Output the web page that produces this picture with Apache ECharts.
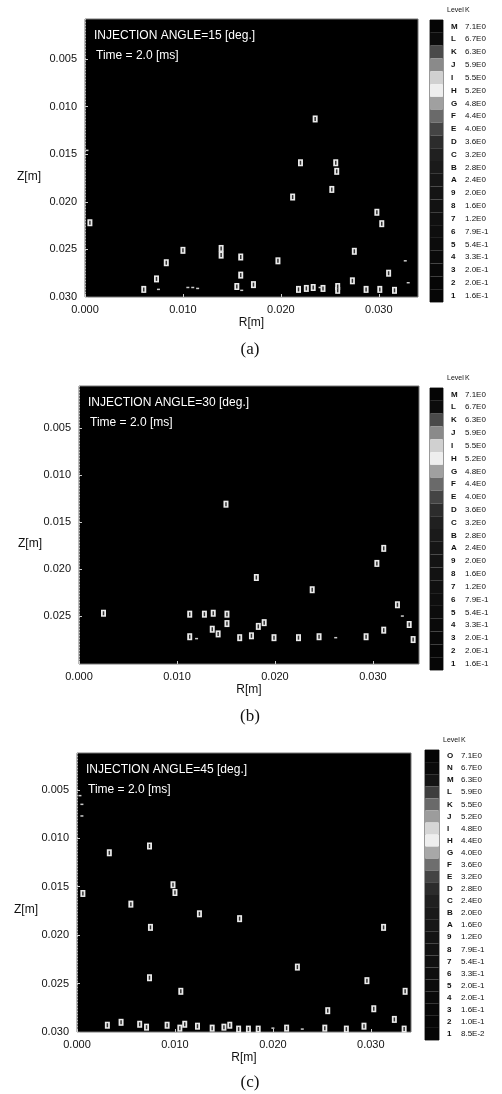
<!DOCTYPE html>
<html>
<head>
<meta charset="UTF-8">
<script src="https://cdn.jsdelivr.net/npm/echarts@6/dist/echarts.min.js"></script>
<title>K contours</title>
<style>body{margin:0;background:#fff;}</style>
</head>
<body>
<div id="main" style="width:502px;height:1094px;"></div>
<script type="text/javascript">
// level tables (top -> bottom)
var levels13 = ['M','L','K','J','I','H','G','F','E','D','C','B','A','9','8','7','6','5','4','3','2','1'];
var values13 = ['7.1E0','6.7E0','6.3E0','5.9E0','5.5E0','5.2E0','4.8E0','4.4E0','4.0E0','3.6E0','3.2E0',
                '2.8E0','2.4E0','2.0E0','1.6E0','1.2E0','7.9E-1','5.4E-1','3.3E-1','2.0E-1','2.0E-1','1.6E-1'];
var grays13 = ['#050505','#0c0c0c','#4a4a4a','#8a8a8a','#d0d0d0','#eeeeee','#a0a0a0','#6a6a6a','#444444','#2c2c2c','#202020',
               '#1a1a1a','#161616','#141414','#121212','#101010','#0e0e0e','#0c0c0c','#0a0a0a','#080808','#060606','#060606'];

var levels15 = ['O','N','M','L','K','J','I','H','G','F','E','D','C','B','A','9','8','7','6','5','4','3','2','1'];
var values15 = ['7.1E0','6.7E0','6.3E0','5.9E0','5.5E0','5.2E0','4.8E0','4.4E0','4.0E0','3.6E0','3.2E0','2.8E0',
                '2.4E0','2.0E0','1.6E0','1.2E0','7.9E-1','5.4E-1','3.3E-1','2.0E-1','2.0E-1','1.6E-1','1.0E-1','8.5E-2'];
var grays15 = ['#050505','#0a0a0a','#141414','#3e3e3e','#6a6a6a','#9c9c9c','#d6d6d6','#eeeeee','#a8a8a8','#6e6e6e','#444444','#2c2c2c',
               '#202020','#1a1a1a','#161616','#141414','#121212','#101010','#0e0e0e','#0c0c0c','#0a0a0a','#080808','#060606','#060606'];

var zTicks = [0.005, 0.010, 0.015, 0.020, 0.025, 0.030];
var zTicksB = [0.005, 0.010, 0.015, 0.020, 0.025];
var rTicks = [0.000, 0.010, 0.020, 0.030];

// contour label positions [R, Z]
var labelsA = [
  [0.0235,0.0113],[0.0220,0.0159],[0.0256,0.0159],[0.0257,0.0168],[0.0252,0.0187],[0.0212,0.0195],
  [0.0298,0.0211],[0.0303,0.0223],[0.0100,0.0251],[0.0139,0.0249],[0.0139,0.0256],[0.0159,0.0258],
  [0.0197,0.0262],[0.0275,0.0252],[0.0083,0.0264],[0.0159,0.0277],[0.0310,0.0275],[0.0273,0.0283],
  [0.0073,0.0281],[0.0060,0.0292],[0.0155,0.0289],[0.0172,0.0287],[0.0218,0.0292],[0.0226,0.0291],
  [0.0233,0.0290],[0.0243,0.0291],[0.0258,0.0289],[0.0258,0.0293],[0.0287,0.0292],[0.0301,0.0292],
  [0.0316,0.0293],[0.0005,0.0222]
];
var specksA = [
  [0.0002,0.0146],[0.0105,0.0290],[0.0110,0.0290],[0.0115,0.0291],[0.0075,0.0292],[0.0160,0.0293],
  [0.0240,0.0290],[0.0327,0.0262],[0.0330,0.0285]
];

var labelsB = [
  [0.0150,0.0131],[0.0181,0.0209],[0.0238,0.0222],[0.0304,0.0194],[0.0311,0.0178],[0.0025,0.0247],
  [0.0113,0.0248],[0.0128,0.0248],[0.0137,0.0247],[0.0151,0.0248],[0.0113,0.0272],[0.0136,0.0264],
  [0.0142,0.0269],[0.0151,0.0258],[0.0164,0.0273],[0.0176,0.0271],[0.0183,0.0261],[0.0189,0.0257],
  [0.0199,0.0273],[0.0224,0.0273],[0.0245,0.0272],[0.0293,0.0272],[0.0311,0.0265],[0.0325,0.0238],
  [0.0337,0.0259],[0.0341,0.0275]
];
var specksB = [[0.0120,0.0274],[0.0262,0.0273],[0.0330,0.0250]];

var labelsC = [
  [0.0033,0.0115],[0.0074,0.0108],[0.0098,0.0148],[0.0100,0.0156],[0.0055,0.0168],[0.0006,0.0157],
  [0.0125,0.0178],[0.0166,0.0183],[0.0075,0.0192],[0.0313,0.0192],[0.0343,0.0181],[0.0106,0.0258],
  [0.0225,0.0233],[0.0256,0.0278],[0.0296,0.0247],[0.0303,0.0276],[0.0324,0.0287],[0.0335,0.0258],
  [0.0074,0.0244],[0.0031,0.0293],[0.0045,0.0290],[0.0064,0.0292],[0.0071,0.0295],[0.0092,0.0293],
  [0.0105,0.0296],[0.0110,0.0292],[0.0123,0.0294],[0.0138,0.0296],[0.0150,0.0295],[0.0156,0.0293],
  [0.0165,0.0297],[0.0175,0.0297],[0.0185,0.0297],[0.0214,0.0296],[0.0253,0.0296],[0.0275,0.0297],
  [0.0293,0.0294],[0.0334,0.0297]
];
var specksC = [[0.0003,0.0056],[0.0005,0.0065],[0.0005,0.0077],[0.0200,0.0296],[0.0230,0.0297]];

var panels = [
  {grid:{left:85, top:19, width:333, height:278}, xMax:0.034, yMin:0.0008, yMax:0.030, zt:zTicks,
   bar:{left:430, top:20, width:13, height:282}, lv:levels13, lvv:values13, gr:grays13,
   labels:labelsA, specks:specksA, angle:'15', zx:29, zy:177, tag:'(a)', tagY:350},
  {grid:{left:79, top:386, width:340, height:278}, xMax:0.0347, yMin:0.00053, yMax:0.0301, zt:zTicksB,
   bar:{left:430, top:388, width:13, height:282}, lv:levels13, lvv:values13, gr:grays13,
   labels:labelsB, specks:specksB, angle:'30', zx:30, zy:544, tag:'(b)', tagY:717},
  {grid:{left:77, top:753, width:334, height:279}, xMax:0.0341, yMin:0.0012, yMax:0.030, zt:zTicks,
   bar:{left:425, top:750, width:14, height:290}, lv:levels15, lvv:values15, gr:grays15,
   labels:labelsC, specks:specksC, angle:'45', zx:26, zy:910, tag:'(c)', tagY:1083}
];

var FONT = '"Liberation Sans", Arial, sans-serif';
var grids = [], xAxes = [], yAxes = [], series = [], graphics = [];

panels.forEach(function (p, k) {
  var gi = grids.length;
  grids.push({left:p.grid.left, top:p.grid.top, width:p.grid.width, height:p.grid.height,
              show:true, backgroundColor:'#000', borderColor:'#777', borderWidth:1});
  xAxes.push({gridIndex:gi, type:'value', min:0, max:p.xMax,
    axisLine:{show:false}, splitLine:{show:false},
    axisTick:{show:true, inside:true, length:3, lineStyle:{color:'#ccc'}, customValues:rTicks},
    axisLabel:{customValues:rTicks, margin:7, color:'#111', fontSize:11, fontFamily:FONT,
      formatter:function (v) { return v.toFixed(3); }},
    name:'R[m]', nameLocation:'middle', nameGap:20,
    nameTextStyle:{color:'#111', fontSize:12, fontFamily:FONT}});
  yAxes.push({gridIndex:gi, type:'value', inverse:true, min:p.yMin, max:p.yMax,
    axisLine:{show:true, lineStyle:{color:'#bbb', type:[1,2]}}, splitLine:{show:false},
    axisTick:{show:true, inside:true, length:3, lineStyle:{color:'#ccc'}, customValues:p.zt},
    axisLabel:{customValues:p.zt, margin:8, color:'#111', fontSize:11, fontFamily:FONT,
      formatter:function (v) { return v.toFixed(3); }}});
  series.push({type:'scatter', xAxisIndex:gi, yAxisIndex:gi, data:p.labels, symbol:'rect',
    symbolSize:[5,7], itemStyle:{color:'#eaeaea', opacity:1}, silent:true, animation:false});
  series.push({type:'scatter', xAxisIndex:gi, yAxisIndex:gi, data:p.labels, symbol:'rect',
    symbolSize:[1.5,4], itemStyle:{color:'#333', opacity:1}, silent:true, animation:false});
  series.push({type:'scatter', xAxisIndex:gi, yAxisIndex:gi, data:p.specks, symbol:'rect',
    symbolSize:[3,1.5], itemStyle:{color:'#ccc', opacity:1}, silent:true, animation:false});

  // colour bar
  var bi = grids.length;
  grids.push({left:p.bar.left, top:p.bar.top, width:p.bar.width, height:p.bar.height,
              show:true, borderColor:'#333', borderWidth:1});
  xAxes.push({gridIndex:bi, type:'value', min:0, max:1, show:false});
  var lvv = p.lvv;
  yAxes.push({gridIndex:bi, type:'category', data:p.lv, inverse:true, position:'right',
    axisLine:{show:false}, axisTick:{show:false},
    axisLabel:{margin:8, fontFamily:FONT, fontSize:8, color:'#111', interval:0,
      formatter:function (v, i) { return '{l|' + v + '}{v|' + lvv[i] + '}'; },
      rich:{l:{width:14, fontSize:8, fontWeight:'bold', fontFamily:FONT, color:'#111'},
            v:{fontSize:8, fontFamily:FONT, color:'#111'}}}});
  series.push({type:'bar', xAxisIndex:bi, yAxisIndex:bi, barCategoryGap:'0%', silent:true, animation:false,
    data:p.lv.map(function (l, i) { return {value:1, itemStyle:{color:p.gr[i]}}; })});

  // texts
  graphics.push({type:'text', left:p.bar.left + p.bar.width + 4, top:p.bar.top - 13,
    style:{text:'Level', fill:'#111', font:'7px ' + FONT}});
  graphics.push({type:'text', left:p.bar.left + p.bar.width + 22, top:p.bar.top - 13,
    style:{text:'K', fill:'#111', font:'7px ' + FONT}});
  graphics.push({type:'text', left:p.grid.left + 9, top:p.grid.top + 11,
    style:{text:'INJECTION ANGLE=' + p.angle + ' [deg.]', fill:'#fff', font:'12px ' + FONT}});
  graphics.push({type:'text', left:p.grid.left + 11, top:p.grid.top + 31,
    style:{text:'Time = 2.0 [ms]', fill:'#fff', font:'12px ' + FONT}});
  graphics.push({type:'text', x:p.zx, y:p.zy,
    style:{text:'Z[m]', fill:'#111', font:'12px ' + FONT, align:'center', verticalAlign:'middle'}});
  graphics.push({type:'text', x:250, y:p.tagY,
    style:{text:p.tag, fill:'#111', font:'17px "Liberation Serif", "Times New Roman", serif',
           align:'center', verticalAlign:'middle'}});
});

var myChart = echarts.init(document.getElementById('main'));
myChart.setOption({
  animation:false,
  backgroundColor:'#fff',
  grid:grids,
  xAxis:xAxes,
  yAxis:yAxes,
  series:series,
  graphic:graphics
});
</script>
</body>
</html>
